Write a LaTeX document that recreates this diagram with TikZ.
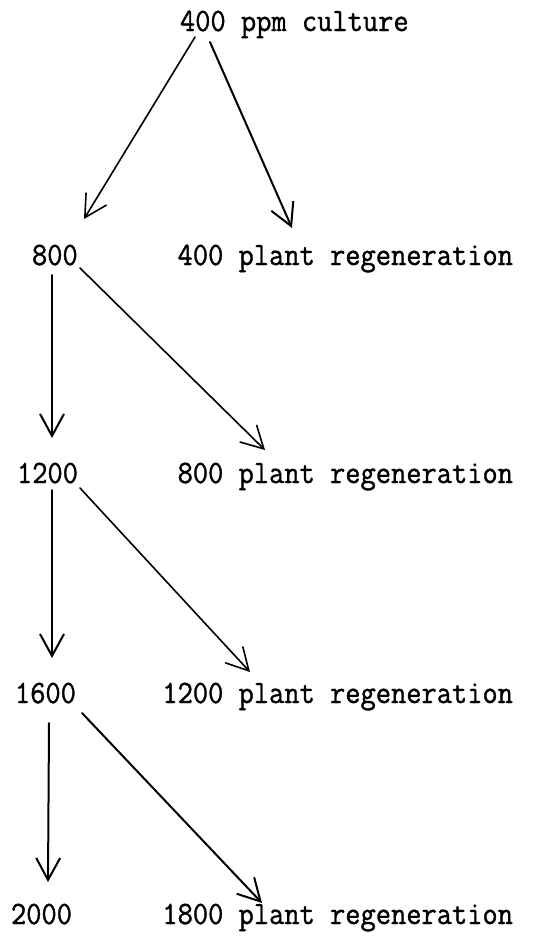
\documentclass[tikz,border=0pt]{standalone}
\usepackage{fontspec}
\setmonofont[FakeBold=1.2]{Latin Modern Mono}
\usetikzlibrary{arrows.meta}
\tikzstyle{lbl} = [inner sep=0pt, font=\ttfamily\fontsize{14.8pt}{17pt}\selectfont]
\newcommand{\tall}[1]{\scalebox{1}[1.1]{#1}}

\begin{document}
\begin{tikzpicture}[x=0.5pt,y=-0.5pt,->,>={Straight Barb[length=11pt,width=12pt]},
                    line width=1pt,line cap=round,line join=round]
  \useasboundingbox (0,0) rectangle (536,939);

  \node[lbl,anchor=base west] (cult)  at (179,31)  {\tall{400 ppm culture}};
  \node[lbl,anchor=base west] (c800)  at (31,265)  {\tall{800}};
  \node[lbl,anchor=base east] (r400)  at (514,265) {\tall{400 plant regeneration}};
  \node[lbl,anchor=base west] (c1200) at (16,483)  {\tall{1200}};
  \node[lbl,anchor=base east] (r800)  at (514,483) {\tall{800 plant regeneration}};
  \node[lbl,anchor=base west] (c1600) at (14,703)  {\tall{1600}};
  \node[lbl,anchor=base east] (r1200) at (514,703) {\tall{1200 plant regeneration}};
  \node[lbl,anchor=base west] (c2000) at (10,924)  {\tall{2000}};
  \node[lbl,anchor=base east] (r1800) at (514,924) {\tall{1800 plant regeneration}};

  \path ([shift={(16,6)}]cult.base west)   edge[line width=0.8pt] ([shift={(53,-46)}]c800.base west)
        ([shift={(31,11)}]cult.base west)  edge ([shift={(-222,-37)}]r400.base east)
        ([shift={(21,10)}]c800.base west)  edge ([shift={(36,-45)}]c1200.base west)
        ([shift={(49,3)}]c800.base west)   edge[line width=0.8pt] ([shift={(-249,-33)}]r800.base east)
        ([shift={(36,7)}]c1200.base west)  edge ([shift={(38,-45)}]c1600.base west)
        ([shift={(64,5)}]c1200.base west)  edge[line width=0.8pt] ([shift={(-264,-31)}]r1200.base east)
        ([shift={(35,20)}]c1600.base west) edge ([shift={(38,-42)}]c2000.base west)
        ([shift={(68,10)}]c1600.base west) edge ([shift={(-252,-21)}]r1800.base east);
\end{tikzpicture}
\end{document}
